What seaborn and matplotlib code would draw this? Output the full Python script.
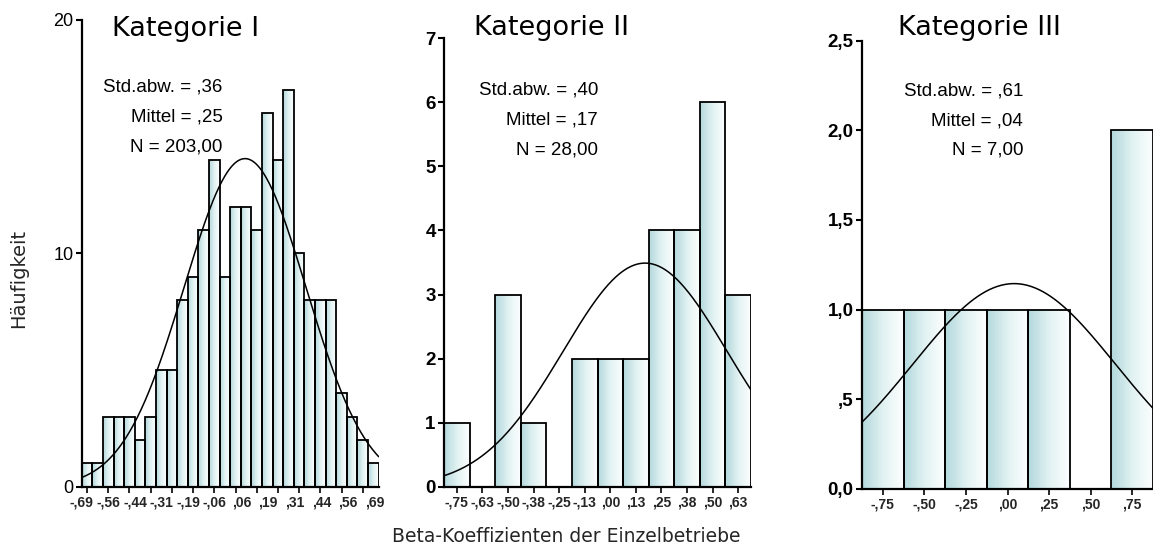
import numpy as np
import pandas as pd
import matplotlib
matplotlib.use("Agg")
import matplotlib.pyplot as plt
import seaborn as sns
from matplotlib.colors import LinearSegmentedColormap
from matplotlib.ticker import FixedLocator, FixedFormatter
from matplotlib.patches import Rectangle
from matplotlib.collections import PatchCollection

# ---------------- data ----------------
titles = ["Kategorie I", "Kategorie II", "Kategorie III"]

counts_1 = [1, 1, 3, 3, 3, 2, 3, 5, 5, 8, 9, 11, 14, 9, 12, 12, 11, 16, 14, 17, 10, 8, 8, 8, 4, 3, 2, 1]
counts_2 = [1, 0, 3, 1, 0, 2, 2, 2, 4, 4, 6, 3]
counts_3 = [1, 1, 1, 1, 1, 0, 2]

bin_start = [-0.875, -0.8125, -0.875]
bin_width = [0.0625, 0.125, 0.25]

xlabels_1 = ["-,69", "-,56", "-,44", "-,31", "-,19", "-,06", ",06", ",19", ",31", ",44", ",56", ",69"]
xlabels_2 = ["-,75", "-,63", "-,50", "-,38", "-,25", "-,13", ",00", ",13", ",25", ",38", ",50", ",63"]
xlabels_3 = ["-,75", "-,50", "-,25", ",00", ",25", ",50", ",75"]

yticks_1 = [0, 10, 20]
ylabels_1 = ["0", "10", "20"]
yticks_2 = [0, 1, 2, 3, 4, 5, 6, 7]
ylabels_2 = ["0", "1", "2", "3", "4", "5", "6", "7"]
yticks_3 = [0.0, 0.5, 1.0, 1.5, 2.0, 2.5]
ylabels_3 = ["0,0", ",5", "1,0", "1,5", "2,0", "2,5"]

stat_sd = [",36", ",40", ",61"]
stat_mean = [",25", ",17", ",04"]
stat_n = ["203,00", "28,00", "7,00"]

curve_center = [0.0875, 0.17, 0.04]
curve_sd = [0.36, 0.40, 0.61]
curve_n = [203, 28, 7]

# ---------------- style ----------------
sns.set_style("ticks")
plt.rcParams["font.family"] = ["DejaVu Sans"]

W, H = 1153, 549
fig = plt.figure(figsize=(W / 100, H / 100), dpi=100)


def px_rect(left, right, top, bottom):
    return [left / W, 1 - bottom / H, (right - left) / W, (bottom - top) / H]


rects = [px_rect(81.7, 378.7, 20, 486.7),
         px_rect(444, 751, 38.3, 486.7),
         px_rect(862, 1153, 40.7, 488.7)]

all_counts = [counts_1, counts_2, counts_3]
all_xlabels = [xlabels_1, xlabels_2, xlabels_3]
all_yticks = [yticks_1, yticks_2, yticks_3]
all_ylabels = [ylabels_1, ylabels_2, ylabels_3]
ytick_weight = ["normal", "bold", "bold"]
ytick_size = [13, 13.5, 13.5]
xtick_size = [10, 10, 10]

# horizontal gradient: teal at the left edge of every bar, fading to white on the right
cmap = LinearSegmentedColormap.from_list("grad", ["#b3d9dc", "#e1f1f2", "#fbfdfd"])
n_strips = 24

title_pos = [(185.5, 36.5), (551.5, 35), (979, 35)]
stat_right = [222.7, 598, 1023]
stat_rows = [(87, 117, 147), (90, 120, 150), (90.7, 120.7, 150)]

for i in range(3):
    ax = fig.add_axes(rects[i])
    counts = np.array(all_counts[i], dtype=float)
    bw = bin_width[i]
    edges = bin_start[i] + bw * np.arange(len(counts) + 1)
    centers = edges[:-1] + bw / 2
    df = pd.DataFrame({"x": centers, "w": counts})

    sns.histplot(data=df, x="x", weights="w", bins=[float(e) for e in edges], ax=ax,
                 stat="count", color="#d9eef0", edgecolor="black", linewidth=1.3, alpha=1)

    strips, colors = [], []
    for p in list(ax.patches):
        x0, w, h = p.get_x(), p.get_width(), p.get_height()
        if h > 0:
            sw = w / n_strips
            for k in range(n_strips):
                strips.append(Rectangle((x0 + k * sw, 0), sw * 1.15, h))
                colors.append(cmap(k / (n_strips - 1)))
        p.set_facecolor("none")
        p.set_zorder(2)
    pc = PatchCollection(strips, facecolors=colors, edgecolors="none",
                         antialiased=False, zorder=1)
    ax.add_collection(pc)

    xs = np.linspace(edges[0], edges[-1], 300)
    mu, sd, n = curve_center[i], curve_sd[i], curve_n[i]
    ys = n * bw / (sd * np.sqrt(2 * np.pi)) * np.exp(-0.5 * ((xs - mu) / sd) ** 2)
    sns.lineplot(x=xs, y=ys, ax=ax, color="black", linewidth=1.1, zorder=3)

    ax.set_xlim(edges[0], edges[-1])
    ax.set_ylim(all_yticks[i][0], all_yticks[i][-1])
    ax.set_xlabel("")
    ax.set_ylabel("")
    sns.despine(ax=ax)
    for s in ["left", "bottom"]:
        ax.spines[s].set_linewidth(1.6)
        ax.spines[s].set_color("black")
    ax.set_facecolor("white")

    # y ticks
    ax.yaxis.set_major_locator(FixedLocator(all_yticks[i]))
    ax.yaxis.set_major_formatter(FixedFormatter(all_ylabels[i]))
    ax.tick_params(axis="y", direction="out", length=4, width=1.5, pad=2,
                   labelsize=ytick_size[i], colors="black")
    for lab in ax.get_yticklabels():
        lab.set_fontfamily("Liberation Sans")
        lab.set_fontweight(ytick_weight[i])

    # x ticks
    if i == 0:
        ax.xaxis.set_major_locator(FixedLocator(centers[::2]))
        ax.xaxis.set_major_formatter(FixedFormatter([""] * len(centers[::2])))
        label_pos = np.linspace(edges[0] + 0.001, edges[-1] - 0.4 * bw, len(xlabels_1))
        ax.xaxis.set_minor_locator(FixedLocator(label_pos))
        ax.xaxis.set_minor_formatter(FixedFormatter(xlabels_1))
        ax.tick_params(axis="x", which="minor", length=0, pad=6, labelsize=xtick_size[i])
        ax.tick_params(axis="x", which="major", direction="out", length=4, width=1.4)
        for lab in ax.get_xticklabels(minor=True):
            lab.set_fontfamily("Liberation Sans")
            lab.set_fontweight("bold")
    else:
        ax.xaxis.set_major_locator(FixedLocator(centers))
        ax.xaxis.set_major_formatter(FixedFormatter(all_xlabels[i]))
        ax.tick_params(axis="x", direction="out", length=4, width=1.4, pad=2,
                       labelsize=xtick_size[i])
        for lab in ax.get_xticklabels():
            lab.set_fontfamily("Liberation Sans")
            lab.set_fontweight("bold")

    # title
    tx, ty = title_pos[i]
    fig.text(tx / W, 1 - ty / H, titles[i], ha="center", va="baseline",
             fontsize=19.5, family="DejaVu Sans", color="black")

    # statistics box
    lines = ["Std.abw. = " + stat_sd[i], "Mittel = " + stat_mean[i], "N = " + stat_n[i]]
    for line, yy in zip(lines, stat_rows[i]):
        fig.text(stat_right[i] / W, 1 - yy / H, line, ha="right", va="center",
                 fontsize=13.5, family="Liberation Sans", color="black")

fig.text(566 / W, 1 - 537 / H, "Beta-Koeffizienten der Einzelbetriebe", ha="center",
         va="center", fontsize=13.5, family="DejaVu Sans")
fig.text(19 / W, 1 - 278 / H, "Häufigkeit", ha="center", va="center", rotation=90,
         fontsize=14, family="DejaVu Sans")

fig.savefig("out.png", dpi=100, facecolor="white")
